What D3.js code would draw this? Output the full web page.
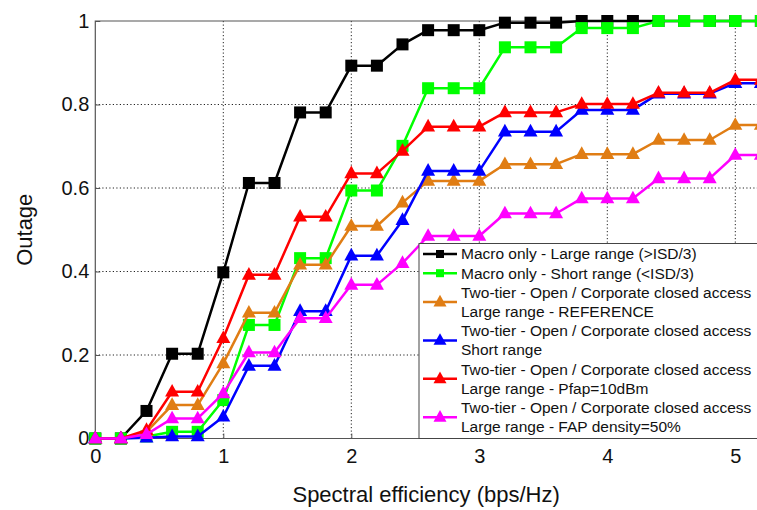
<!DOCTYPE html>
<html>
<head>
<meta charset="utf-8">
<script src="https://cdn.jsdelivr.net/npm/d3@7"></script>
<style>
  body { margin: 0; background: #fff; }
  svg { display: block; font-family: "Liberation Sans", Arial, sans-serif; }
</style>
</head>
<body>
<div id="chart"></div>
<script>
// x values (spectral efficiency, bps/Hz)
const xValues = [0, 0.2, 0.4, 0.6, 0.8, 1.0, 1.2, 1.4, 1.6, 1.8, 2.0, 2.2, 2.4, 2.6,
  2.8, 3.0, 3.2, 3.4, 3.6, 3.8, 4.0, 4.2, 4.4, 4.6, 4.8, 5.0, 5.2];

// outage values
const macroLarge = [0, 0, 0.066, 0.203, 0.203, 0.398, 0.612, 0.612, 0.781, 0.781, 0.893, 0.893,
  0.944, 0.978, 0.978, 0.978, 0.996, 0.996, 0.996, 1, 1, 1, 1, 1, 1, 1, 1];
const macroShort = [0, 0, 0.005, 0.016, 0.016, 0.092, 0.272, 0.272, 0.432, 0.432, 0.594, 0.594,
  0.701, 0.839, 0.839, 0.839, 0.937, 0.937, 0.937, 0.983, 0.983, 0.983, 1, 1, 1, 1, 1];
const twoTierRef = [0, 0, 0.016, 0.08, 0.08, 0.18, 0.301, 0.301, 0.416, 0.416, 0.509, 0.509,
  0.565, 0.617, 0.617, 0.617, 0.657, 0.657, 0.657, 0.681, 0.681, 0.681, 0.715, 0.715, 0.715, 0.751, 0.751];
const twoTierShort = [0, 0, 0.002, 0.005, 0.005, 0.052, 0.174, 0.174, 0.305, 0.305, 0.438, 0.438,
  0.523, 0.641, 0.641, 0.641, 0.735, 0.735, 0.735, 0.787, 0.787, 0.787, 0.826, 0.826, 0.826, 0.851, 0.851];
const twoTierPfap = [0, 0, 0.02, 0.112, 0.112, 0.24, 0.392, 0.392, 0.531, 0.531, 0.635, 0.635,
  0.689, 0.747, 0.747, 0.747, 0.781, 0.781, 0.781, 0.801, 0.801, 0.801, 0.828, 0.828, 0.828, 0.859, 0.859];
const twoTierDensity = [0, 0, 0.01, 0.048, 0.048, 0.108, 0.206, 0.206, 0.288, 0.288, 0.368, 0.368,
  0.42, 0.485, 0.485, 0.485, 0.539, 0.539, 0.539, 0.575, 0.575, 0.575, 0.623, 0.623, 0.623, 0.679, 0.679];

const xTicks = [0, 1, 2, 3, 4, 5];
const yTicks = [0, 0.2, 0.4, 0.6, 0.8, 1];

const series = [
  { name: ["Macro only - Large range (>ISD/3)"], values: macroLarge, color: "#000000", marker: "square" },
  { name: ["Macro only - Short range (<ISD/3)"], values: macroShort, color: "#00ff00", marker: "square" },
  { name: ["Two-tier - Open / Corporate closed access", "Large range - REFERENCE"], values: twoTierRef, color: "#e07d14", marker: "triangle" },
  { name: ["Two-tier - Open / Corporate closed access", "Short range"], values: twoTierShort, color: "#0000ff", marker: "triangle" },
  { name: ["Two-tier - Open / Corporate closed access", "Large range - Pfap=10dBm"], values: twoTierPfap, color: "#ff0000", marker: "triangle" },
  { name: ["Two-tier - Open / Corporate closed access", "Large range - FAP density=50%"], values: twoTierDensity, color: "#ff00ff", marker: "triangle" }
];

const width = 757, height = 510;
const plot = { left: 95.3, top: 21, bottom: 438.5 };

const svg = d3.select("#chart").append("svg")
  .attr("width", width)
  .attr("height", height);

const x = d3.scaleLinear().domain([0, 5.2]).range([plot.left, plot.left + 5.2 * 128]);
const y = d3.scaleLinear().domain([0, 1]).range([plot.bottom, plot.top]);

// grid
const grid = svg.append("g").attr("stroke", "#222").attr("stroke-width", 1).attr("stroke-dasharray", "1.2,2.3");
grid.selectAll(".vg").data(xTicks.filter(d => d > 0)).join("line")
  .attr("x1", d => x(d)).attr("x2", d => x(d))
  .attr("y1", plot.top).attr("y2", plot.bottom);
grid.selectAll(".hg").data(yTicks.filter(d => d > 0 && d < 1)).join("line")
  .attr("x1", plot.left).attr("x2", width)
  .attr("y1", d => y(d)).attr("y2", d => y(d));

// frame
svg.append("path")
  .attr("d", `M${width + 5},${plot.top}H${plot.left}V${plot.bottom}H${width + 5}`)
  .attr("fill", "none").attr("stroke", "#555").attr("stroke-width", 1.2);

// axes
const xAxis = svg.append("g")
  .attr("transform", `translate(0,${plot.bottom})`)
  .call(d3.axisBottom(x).tickValues(xTicks).tickFormat(d3.format("d")).tickSize(-5).tickPadding(7));
const yAxis = svg.append("g")
  .attr("transform", `translate(${plot.left},0)`)
  .call(d3.axisLeft(y).tickValues(yTicks).tickFormat(d => d === 0 || d === 1 ? d : d3.format(".1f")(d)).tickSize(-5).tickPadding(6));
[xAxis, yAxis].forEach(g => {
  g.select(".domain").remove();
  g.selectAll(".tick line").attr("stroke", "#555");
  g.selectAll(".tick text").attr("fill", "#111").style("font-size", "20px");
});
xAxis.selectAll(".tick text").attr("dy", "0.85em");

// axis labels
svg.append("text")
  .attr("x", (plot.left + width) / 2)
  .attr("y", 502)
  .attr("text-anchor", "middle")
  .style("font-size", "22px")
  .attr("fill", "#111")
  .text("Spectral efficiency (bps/Hz)");
svg.append("text")
  .attr("transform", `translate(32,${(plot.top + plot.bottom) / 2}) rotate(-90)`)
  .attr("text-anchor", "middle")
  .style("font-size", "22px")
  .attr("fill", "#111")
  .text("Outage");

// marker drawing
function drawMarker(sel, kind, color, size) {
  if (kind === "square") {
    sel.append("rect")
      .attr("x", -size / 2).attr("y", -size / 2)
      .attr("width", size).attr("height", size)
      .attr("fill", color);
  } else {
    const h = size * 0.9;
    sel.append("path")
      .attr("d", `M0,${-h * 0.62}L${size / 2},${h * 0.38}L${-size / 2},${h * 0.38}Z`)
      .attr("fill", color);
  }
}

const line = d3.line().x((d, i) => x(xValues[i])).y(d => y(d));

const clip = svg.append("defs").append("clipPath").attr("id", "plotclip")
  .append("rect").attr("x", plot.left - 10).attr("y", 0).attr("width", width).attr("height", plot.bottom + 10);

const lines = svg.append("g").attr("clip-path", "url(#plotclip)");
series.forEach(s => {
  const g = lines.append("g");
  g.append("path")
    .datum(s.values)
    .attr("d", line)
    .attr("fill", "none")
    .attr("stroke", s.color)
    .attr("stroke-width", 2.5)
    .attr("stroke-linejoin", "round");
  g.selectAll(".m").data(s.values).join("g")
    .attr("transform", (d, i) => `translate(${x(xValues[i])},${y(d)})`)
    .each(function () { drawMarker(d3.select(this), s.marker, s.color, s.marker === "square" ? 12 : 14); });
});

// legend
const legend = svg.append("g").attr("transform", "translate(419,243.5)");
legend.append("rect")
  .attr("x", 0).attr("y", 0)
  .attr("width", 345).attr("height", 195)
  .attr("fill", "#fff").attr("stroke", "#444").attr("stroke-width", 1);

let row = 0;
const rowH = 19.2;
series.forEach(s => {
  const nLines = s.name.length;
  const cy = 10.5 + (row + (nLines - 1) / 2) * rowH;
  const item = legend.append("g");
  item.append("line")
    .attr("x1", 4).attr("x2", 38)
    .attr("y1", cy).attr("y2", cy)
    .attr("stroke", s.color).attr("stroke-width", 2.5);
  const mg = item.append("g").attr("transform", `translate(21,${cy})`);
  drawMarker(mg, s.marker, s.color, s.marker === "square" ? 8 : 13);
  s.name.forEach((t, k) => {
    item.append("text")
      .attr("x", 42)
      .attr("y", 10.5 + (row + k) * rowH)
      .attr("dy", "0.35em")
      .style("font-size", "15.5px")
      .attr("fill", "#111")
      .text(t);
  });
  row += nLines;
});
</script>
</body>
</html>
